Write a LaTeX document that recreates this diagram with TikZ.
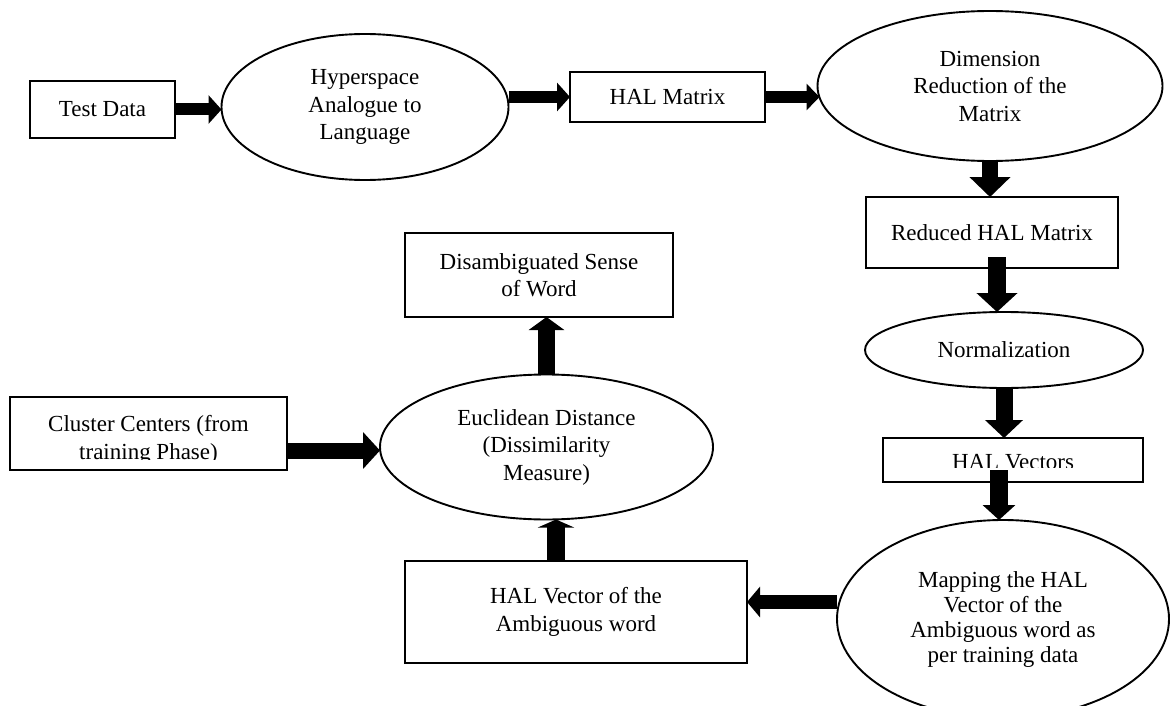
\documentclass[tikz,border=0pt]{standalone}
\usepackage{fontspec}
\setmainfont{Liberation Serif}
\usetikzlibrary{shapes.geometric,arrows.meta}
\begin{document}
\begin{tikzpicture}[x=1pt,y=-1pt,
  every node/.style={outer sep=0pt, inner sep=0pt, align=center,
    font=\fontsize{23}{27.5}\selectfont},
  box/.style={draw, line width=1.9pt, rectangle, fill=white},
  ell/.style={draw, line width=1.9pt, ellipse, fill=white},
  lbl/.style={draw=none, fill=none},
  blk/.style n args={3}{line width=#1, -{Triangle[width=#2,length=#3]}},
]
\useasboundingbox (0,0) rectangle (1172,706);
\clip (0,0) rectangle (1172,706);

% nodes
\node[box, minimum width=145pt, minimum height=57pt] (test) at (102.5,109.5) {Test Data};
\node[ell, minimum width=287pt, minimum height=146pt] (hyper) at (365,107) {Hyperspace\\Analogue to\\Language};
\node[box, minimum width=195pt, minimum height=50pt] (halm) at (667.5,97) {HAL Matrix};
\node[ell, minimum width=345pt, minimum height=150pt] (dim) at (990,86) {Dimension\\Reduction of the\\Matrix};
\node[box, minimum width=252pt, minimum height=71pt] (red) at (992,232.5) {Reduced HAL Matrix};
\node[ell, minimum width=278pt, minimum height=76pt] (norm) at (1004,350) {Normalization};
\node[box, minimum width=260pt, minimum height=44pt] (halv) at (1013,460) {};
\begin{scope}
  \clip (883,438) rectangle (1143,467.5);
  \node[lbl] (halvtxt) at (1013,462.5) {HAL Vectors};
\end{scope}
\node[ell, minimum width=332pt, minimum height=198pt, font=\fontsize{23}{25}\selectfont] (map) at (1003,619) {Mapping the HAL\\Vector of the\\Ambiguous word as\\per training data};
\node[box, minimum width=342pt, minimum height=102pt] (hvec) at (576,612) {HAL Vector of the\\Ambiguous word};
\node[ell, minimum width=333pt, minimum height=145pt] (eucl) at (546.5,447) {Euclidean Distance\\(Dissimilarity\\Measure)};
\node[box, minimum width=268pt, minimum height=84pt] (dis) at (539,275) {Disambiguated Sense\\of Word};
\node[box, minimum width=277pt, minimum height=73pt] (clus) at (148.5,433.5) {};
\begin{scope}
  \clip (10,397) rectangle (287,459.5);
  \node[lbl] (clustxt) at (148.5,440) {Cluster Centers (from\\training Phase)};
\end{scope}

% connectors
\draw[blk={12pt}{28pt}{13pt}] (test.east) -- (test.east -| hyper.west);
\draw[blk={12pt}{28pt}{13pt}] (hyper.east |- halm.west) -- (halm.west);
\draw[blk={12pt}{26pt}{13pt}] (halm.east) -- ([xshift=2pt]dim.west |- halm.east);
\draw[blk={16pt}{40pt}{20pt}] (dim.south) -- (dim.south |- red.north);
\draw[blk={18pt}{40pt}{19pt}] ([xshift=5pt,yshift=11pt]red.south) -- ([xshift=-7pt]norm.north);
\draw[blk={17pt}{37pt}{18pt}] (norm.south) -- (norm.south |- halv.north);
\draw[blk={18pt}{32pt}{15pt}] ([xshift=-14pt,yshift=-10pt]halv.center) -- ([xshift=-4pt]map.north);
\draw[blk={14pt}{30pt}{13pt}] ([yshift=10pt]hvec.east -| map.west) -- ([yshift=10pt]hvec.east);
\draw[blk={18pt}{36pt}{8pt}] ([xshift=-20pt]hvec.north) -- ([xshift=-20pt]hvec.north |- eucl.south);
\draw[blk={17pt}{35pt}{13pt}] (eucl.north) -- (eucl.north |- dis.south);
\draw[blk={16pt}{36pt}{17pt}] ([yshift=-17pt]clus.east) -- ([yshift=-17pt]clus.east -| eucl.west);
\end{tikzpicture}
\end{document}
